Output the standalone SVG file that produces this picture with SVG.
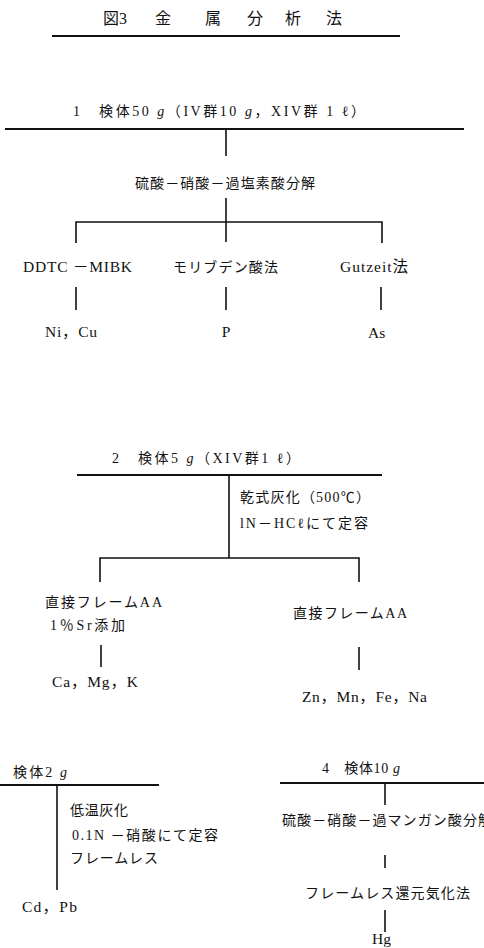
<svg xmlns="http://www.w3.org/2000/svg" width="484" height="948" viewBox="0 0 484 948">
<style>
text{font-family:"Liberation Serif","Noto Sans CJK JP",serif;font-size:14px;fill:#111}
.t{font-size:16px}
.l{font-size:15.5px}
.i{font-style:italic}
.ln{stroke:#111;stroke-width:1.6;fill:none}
.hd{stroke:#111;stroke-width:2;fill:none}
</style>
<rect width="484" height="948" fill="#fff"/>
<g id="title">
<text class="t" y="24"><tspan x="103">図3</tspan><tspan x="155">金</tspan><tspan x="205">属</tspan><tspan x="247">分</tspan><tspan x="285">析</tspan><tspan x="326">法</tspan></text>
<line class="hd" x1="52" y1="36" x2="400" y2="36"/>
</g>
<g id="connectors">
<line class="hd" x1="5" y1="129" x2="464" y2="129"/>
<line class="ln" x1="226" y1="129" x2="226" y2="156"/>
<line class="ln" x1="226" y1="198" x2="226" y2="242"/>
<polyline class="ln" points="76,243 76,222 382,222 382,243"/>
<line class="ln" x1="76" y1="287" x2="76" y2="310"/>
<line class="ln" x1="226" y1="287" x2="226" y2="310"/>
<line class="ln" x1="381" y1="287" x2="381" y2="310"/>
<line class="hd" x1="77" y1="475" x2="382" y2="475"/>
<line class="ln" x1="229" y1="475" x2="229" y2="558"/>
<polyline class="ln" points="100,582 100,558 359,558 359,582"/>
<line class="ln" x1="101" y1="645" x2="101" y2="667"/>
<line class="ln" x1="359" y1="647" x2="359" y2="670"/>
<line class="hd" x1="0" y1="785" x2="159" y2="785"/>
<line class="ln" x1="57" y1="785" x2="57" y2="890"/>
<line class="hd" x1="280" y1="783" x2="484" y2="783"/>
<line class="ln" x1="385" y1="783" x2="385" y2="805"/>
<line class="ln" x1="385" y1="855" x2="385" y2="868"/>
<line class="ln" x1="385" y1="910" x2="385" y2="932"/>
</g>
<g id="n1">
<text x="73" y="116" textLength="292" lengthAdjust="spacing">1　検体50 <tspan class="i">g</tspan>（IV群10 <tspan class="i">g</tspan>，XIV群 1 ℓ）</text>
</g>
<g id="n1a"><text x="135" y="188" textLength="180" lengthAdjust="spacing">硫酸－硝酸－過塩素酸分解</text></g>
<g id="n1b"><text class="l" x="23" y="272" textLength="109" lengthAdjust="spacing">DDTC －MIBK</text></g>
<g id="n1c"><text x="173" y="272" textLength="105" lengthAdjust="spacing">モリブデン酸法</text></g>
<g id="n1d"><text class="l" x="340" y="272" textLength="68" lengthAdjust="spacing">Gutzeit法</text></g>
<g id="n1e"><text class="l" x="45" y="337" textLength="52" lengthAdjust="spacing">Ni，Cu</text></g>
<g id="n1f"><text class="l" x="226" y="337" text-anchor="middle">P</text></g>
<g id="n1g"><text class="l" x="368" y="338">As</text></g>
<g id="n2">
<text x="112" y="463" textLength="188" lengthAdjust="spacing">2　検体5 <tspan class="i">g</tspan>（XIV群1 ℓ）</text>
</g>
<g id="n2a">
<text x="240" y="502" textLength="130" lengthAdjust="spacing">乾式灰化（500℃）</text>
<text x="240" y="528" textLength="128" lengthAdjust="spacing">lN－HCℓにて定容</text>
</g>
<g id="n2b">
<text x="45" y="607" textLength="117" lengthAdjust="spacing">直接フレームAA</text>
<text x="50" y="630" textLength="75" lengthAdjust="spacing">1％Sr添加</text>
</g>
<g id="n2c"><text x="293" y="618" textLength="114" lengthAdjust="spacing">直接フレームAA</text></g>
<g id="n2d"><text class="l" x="52" y="687" textLength="86" lengthAdjust="spacing">Ca，Mg，K</text></g>
<g id="n2e"><text class="l" x="302" y="702" textLength="125" lengthAdjust="spacing">Zn，Mn，Fe，Na</text></g>
<g id="n3"><text x="13" y="777" textLength="54" lengthAdjust="spacing">検体2 <tspan class="i">g</tspan></text></g>
<g id="n3a">
<text x="70" y="815" textLength="58" lengthAdjust="spacing">低温灰化</text>
<text x="72" y="840" textLength="146" lengthAdjust="spacing">0.1N －硝酸にて定容</text>
<text x="70" y="863" textLength="88" lengthAdjust="spacing">フレームレス</text>
</g>
<g id="n3b"><text class="l" x="22" y="912" textLength="55" lengthAdjust="spacing">Cd，Pb</text></g>
<g id="n4"><text x="322" y="773" textLength="78" lengthAdjust="spacing">4　検体10 <tspan class="i">g</tspan></text></g>
<g id="n4a"><text x="282" y="825" textLength="210" lengthAdjust="spacing">硫酸－硝酸－過マンガン酸分解</text></g>
<g id="n4b"><text x="305" y="898" textLength="165" lengthAdjust="spacing">フレームレス還元気化法</text></g>
<g id="n4c"><text class="l" x="372" y="944">Hg</text></g>
</svg>
